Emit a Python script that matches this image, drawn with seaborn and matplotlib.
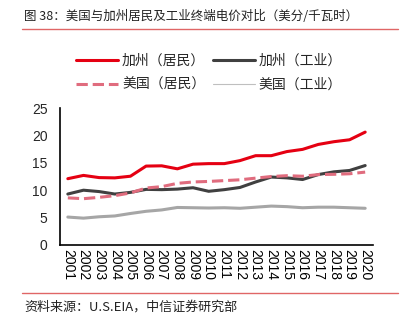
import matplotlib
matplotlib.use("Agg")
import matplotlib.pyplot as plt
from matplotlib.lines import Line2D
from matplotlib.ticker import FixedLocator, NullFormatter
import seaborn as sns
import pandas as pd

years = list(range(2001, 2021))
ca_residential = [12.1, 12.7, 12.3, 12.25, 12.55, 14.4, 14.45, 13.9, 14.75, 14.85,
                  14.85, 15.4, 16.3, 16.3, 17.05, 17.45, 18.35, 18.85, 19.2, 20.6]
ca_industrial = [9.3, 10.0, 9.75, 9.3, 9.6, 10.15, 10.1, 10.2, 10.45, 9.8,
                 10.1, 10.5, 11.5, 12.4, 12.25, 11.95, 12.85, 13.35, 13.6, 14.5]
us_residential = [8.6, 8.45, 8.7, 9.0, 9.5, 10.4, 10.65, 11.25, 11.5, 11.6,
                  11.75, 11.9, 12.2, 12.5, 12.65, 12.55, 12.85, 12.9, 13.0, 13.3]
us_industrial = [5.1, 4.9, 5.15, 5.3, 5.75, 6.15, 6.4, 6.85, 6.8, 6.75,
                 6.8, 6.7, 6.9, 7.1, 7.0, 6.8, 6.9, 6.9, 6.8, 6.7]

series_names = ["加州（居民）", "加州（工业）", "美国（居民）", "美国（工业）"]
series_values = [ca_residential, ca_industrial, us_residential, us_industrial]
colors = ["#E50012", "#404040", "#E06C7E", "#A6A6A6"]
styles = ["-", "-", "--", "-"]
widths = [2.2, 2.2, 2.2, 2.2]

sns.set_style("white")
plt.rcParams["font.family"] = ["Liberation Sans", "Noto Sans CJK SC", "DejaVu Sans"]
cjk = ["Noto Sans CJK SC", "DejaVu Sans"]

df = pd.DataFrame({"year": years})
for name, vals in zip(series_names, series_values):
    df[name] = vals

fig = plt.figure(figsize=(4.02, 3.24), dpi=100)
ax = fig.add_axes([60 / 402, 1 - 245 / 324, 313 / 402, 137 / 324])

for name, c, ls, lw in zip(series_names, colors, styles, widths):
    sns.lineplot(data=df, x="year", y=name, ax=ax, color=c, linestyle=ls,
                 linewidth=lw, legend=False)

ax.set_xlim(2000.5, 2020.5)
ax.set_ylim(0, 25)
ax.set_yticks([0, 5, 10, 15, 20, 25])
ax.set_xticks(years)
ax.set_xticklabels([str(y) for y in years], rotation=-90, fontsize=10)
ax.xaxis.set_minor_locator(FixedLocator([y + 0.5 for y in range(2000, 2021)]))
ax.xaxis.set_minor_formatter(NullFormatter())
ax.tick_params(axis="x", which="major", length=0, pad=3, colors="#000000")
ax.tick_params(axis="x", which="minor", length=4, width=1, direction="out", color="#000000")
ax.tick_params(axis="y", which="major", length=3, width=1, direction="out",
               labelsize=10, pad=6, color="#000000")
ax.set_xlabel("")
ax.set_ylabel("")
for side in ["top", "right"]:
    ax.spines[side].set_visible(False)
for side in ["left", "bottom"]:
    ax.spines[side].set_color("#000000")
    ax.spines[side].set_linewidth(1.2)

handles = [
    Line2D([], [], color=colors[0], lw=2.2, ls="-"),
    Line2D([], [], color=colors[2], lw=2.2, ls="--"),
    Line2D([], [], color=colors[1], lw=2.2, ls="-"),
    Line2D([], [], color="#BFBFBF", lw=0.8, ls="-"),
]
labels = [series_names[0], series_names[2], series_names[1], series_names[3]]
fig.legend(handles, labels, ncol=2, loc="center", bbox_to_anchor=(0.52, 0.776),
           frameon=False, prop={"family": cjk, "size": 10}, handlelength=3.0,
           handletextpad=0.3, columnspacing=0.55, labelspacing=0.75)

fig.text(24 / 402, 1 - 16 / 324, "图 38：美国与加州居民及工业终端电价对比（美分/千瓦时）",
         family=cjk, fontsize=9.0, color="#222222", va="center", ha="left")
fig.add_artist(Line2D([22 / 402, 398 / 402], [1 - 29 / 324, 1 - 29 / 324],
                      color="#E06666", lw=1.0, transform=fig.transFigure))
fig.add_artist(Line2D([22 / 402, 398 / 402], [1 - 293 / 324, 1 - 293 / 324],
                      color="#E06666", lw=1.0, transform=fig.transFigure))
fig.text(24 / 402, 1 - 307 / 324, "资料来源：U.S.EIA，中信证券研究部",
         family=cjk, fontsize=9.4, color="#222222", va="center", ha="left")

fig.savefig("out.png", dpi=100)
